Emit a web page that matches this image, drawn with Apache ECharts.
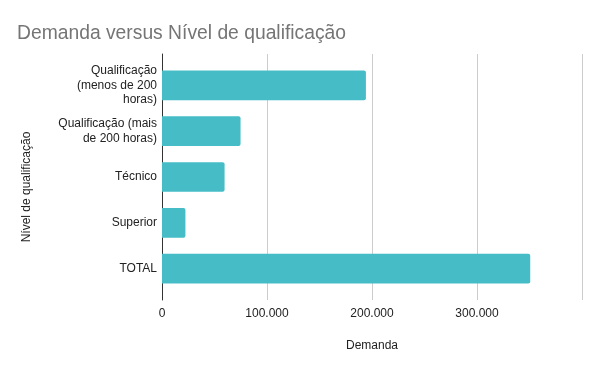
<!DOCTYPE html>
<html><head><meta charset="utf-8">
<script src="https://cdn.jsdelivr.net/npm/echarts@6/dist/echarts.min.js"></script>
<style>html,body{margin:0;padding:0;background:#fff}#c{width:600px;height:371px}</style>
</head><body><div id="c"></div>
<script>
const categories = ['Qualificação (menos de 200 horas)', 'Qualificação (mais de 200 horas)', 'Técnico', 'Superior', 'TOTAL'];
const categoryLabels = ['Qualificação\n(menos de 200\nhoras)', 'Qualificação (mais\nde 200 horas)', 'Técnico', 'Superior', 'TOTAL'];
const demanda = [194200, 74800, 59600, 22300, 350700];
const xTicks = [0, 100000, 200000, 300000, 400000];
const title = 'Demanda versus Nível de qualificação';
const xName = 'Demanda';
const yName = 'Nível de qualificação';

function fmt(v){ return String(v).replace(/\B(?=(\d{3})+(?!\d))/g, '.'); }
const FONT = '"Liberation Sans", Arial, sans-serif';
const chart = echarts.init(document.getElementById('c'), null, {renderer:'canvas'});
chart.setOption({
  animation:false,
  backgroundColor:'#fff',
  title:{text:title,left:12,top:19,textStyle:{fontFamily:FONT,fontSize:19.3,fontWeight:'normal',color:'#757575'}},
  grid:[
    {left:162,right:18,top:54,bottom:71,containLabel:false},
    {left:162,right:18,top:62.6,bottom:79.6,containLabel:false}
  ],
  xAxis:[
    {gridIndex:0,type:'value',min:xTicks[0],max:xTicks[xTicks.length-1],interval:xTicks[1]-xTicks[0],
     axisLine:{show:false},axisTick:{show:false},
     splitLine:{lineStyle:{color:'#cccccc',width:1}},
     axisLabel:{margin:8,fontFamily:FONT,fontSize:12,color:'#222',formatter:v=> v===xTicks[xTicks.length-1]?'':fmt(v)},
     name:xName,nameLocation:'middle',nameGap:40,nameTextStyle:{fontFamily:FONT,fontSize:12,color:'#222'}},
    {gridIndex:1,type:'value',min:xTicks[0],max:xTicks[xTicks.length-1],show:false,splitLine:{show:false}}
  ],
  yAxis:[
    {gridIndex:0,type:'value',min:0,max:1,axisLine:{show:true,lineStyle:{color:'#333',width:1}},axisTick:{show:false},axisLabel:{show:false},splitLine:{show:false}},
    {gridIndex:1,type:'category',data:categories,inverse:true,
     axisLine:{show:false},axisTick:{show:false},
     axisLabel:{margin:5,fontFamily:FONT,fontSize:12,color:'#222',lineHeight:14.5,align:'right',
       formatter:(v,i)=>categoryLabels[categories.indexOf(v)]}}
  ],
  graphic:[{type:'text',x:27,y:187,rotation:Math.PI/2,
    style:{text:yName,font:'12px "Liberation Sans", Arial, sans-serif',fill:'#222',align:'center',verticalAlign:'middle'}}],
  series:[{type:'bar',xAxisIndex:1,yAxisIndex:1,data:demanda,barCategoryGap:'35%',
    itemStyle:{color:'#46bdc6',borderRadius:[0,2,2,0]}}]
});
</script></body></html>
